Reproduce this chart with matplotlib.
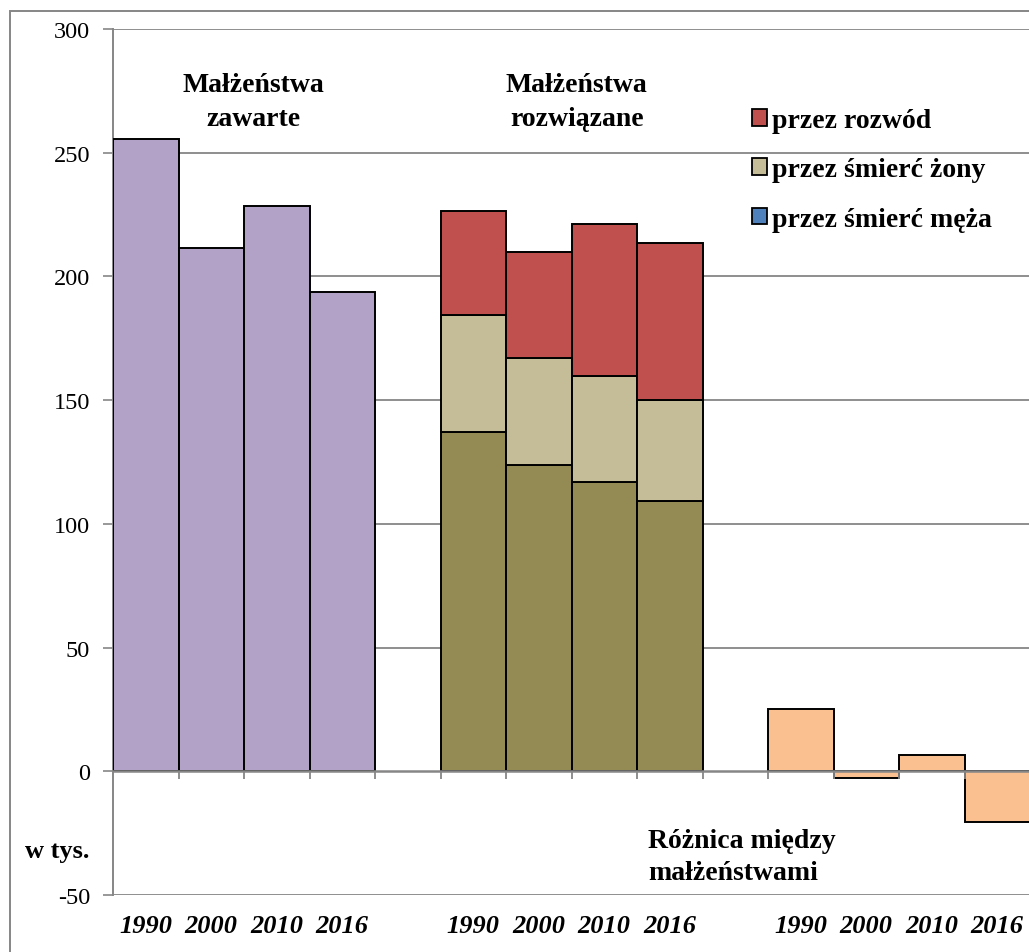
import matplotlib
matplotlib.use("Agg")
import matplotlib.pyplot as plt
from matplotlib.patches import Rectangle, Patch
from matplotlib import transforms

plt.rcParams['font.family'] = ['Liberation Serif', 'DejaVu Serif']
plt.rcParams['axes.unicode_minus'] = False

# Data (thousands)
years = ['1990', '2000', '2010', '2016']
zawarte = [255.4, 211.4, 228.4, 193.6]
przez_smierc_meza = [137.0, 123.7, 117.1, 109.1]
przez_smierc_zony = [47.5, 43.3, 42.6, 40.8]
przez_rozwod = [42.1, 42.9, 61.3, 63.5]
roznica = [25.3, -2.9, 6.5, -20.4]

group_titles = [['Małżeństwa', 'zawarte'],
                ['Małżeństwa', 'rozwiązane'],
                ['Różnica między', 'małżeństwami']]
legend_labels = ['przez rozwód', 'przez śmierć żony', 'przez śmierć męża']
yticks = [-50, 0, 50, 100, 150, 200, 250, 300]

C_PURPLE = '#B2A2C7'
C_OLIVE = '#948A54'
C_TAN = '#C4BD97'
C_RED = '#C0504D'
C_BLUE = '#4F81BD'
C_PEACH = '#FAC090'
C_GRID = '#868686'

W, H = 1029, 953
fig = plt.figure(figsize=(W / 100, H / 100), dpi=100)
ax = fig.add_axes([113 / W, (H - 896) / H, (1030 - 113) / W, (896 - 30) / H])

n = len(years)
x1 = list(range(0, n))
x2 = [i + n + 1 for i in range(n)]
x3 = [i + 2 * (n + 1) for i in range(n)]

edge = dict(edgecolor='black', linewidth=1.4, width=1.0, zorder=3)
ax.bar(x1, zawarte, color=C_PURPLE, **edge)
ax.bar(x2, przez_smierc_meza, color=C_OLIVE, **edge)
ax.bar(x2, przez_smierc_zony, bottom=przez_smierc_meza, color=C_TAN, **edge)
bottom3 = [a + b for a, b in zip(przez_smierc_meza, przez_smierc_zony)]
ax.bar(x2, przez_rozwod, bottom=bottom3, color=C_RED, **edge)
ax.bar(x3, roznica, color=C_PEACH, **edge)

ax.set_xlim(-0.5, 3 * n + 2 - 0.5)
ax.set_ylim(-50, 300)
ax.set_yticks(yticks)
ax.set_yticklabels([str(v) for v in yticks], fontsize=17.5)
ax.tick_params(axis='y', length=7, width=1.2, color=C_GRID, pad=9.5)
ax.set_xticks([])
for s in ['top', 'right', 'bottom']:
    ax.spines[s].set_visible(False)
ax.spines['left'].set_color(C_GRID)
ax.spines['left'].set_linewidth(1.4)
for v in yticks:
    if v != 0:
        ax.axhline(v, color=C_GRID, lw=1.3, zorder=1)
ax.axhline(0, color=C_GRID, lw=1.8, zorder=4)
# category boundary ticks on the zero line
for b in range(1, 3 * n + 2):
    ax.plot([b - 0.5, b - 0.5], [0, -3.2], color=C_GRID, lw=1.3, zorder=4,
            solid_capstyle='butt')

# year labels below the plot
blend = transforms.blended_transform_factory(ax.transData, fig.transFigure)
for xs in (x1, x2, x3):
    for xi, yr in zip(xs, years):
        ax.text(xi, 1 - 927 / H, yr, transform=blend, ha='center', va='center',
                fontsize=19, fontweight='bold', fontstyle='italic')

# group titles (one text per line, placed on baselines)
title_style = dict(fontsize=20, fontweight='bold', va='baseline')
for (l1, l2), xc in zip(group_titles[:2], [1.65, 6.58]):
    ax.text(xc, 275.0, l1, ha='center', **title_style)
    ax.text(xc, 261.4, l2, ha='center', **title_style)
x_r = (648 - 113) / 65.5 - 0.5
ax.text(x_r, -30.7, group_titles[2][0], ha='left', **title_style)
ax.text(x_r, -43.6, group_titles[2][1], ha='left', **title_style)

fig.text(57.5 / W, 1 - 858 / H, 'w tys.', ha='center', va='baseline', fontsize=19,
         fontweight='bold')

handles = [Patch(facecolor=C_RED, edgecolor='black', linewidth=1.3),
           Patch(facecolor=C_TAN, edgecolor='black', linewidth=1.3),
           Patch(facecolor=C_BLUE, edgecolor='black', linewidth=1.3)]
ax.legend(handles, legend_labels, loc='upper left',
          bbox_to_anchor=(752 / W, 1 - 109 / H), bbox_transform=fig.transFigure,
          frameon=False, prop={'size': 20, 'weight': 'bold'},
          handlelength=0.55, handleheight=0.55, handletextpad=0.18,
          labelspacing=0.88, borderpad=0, borderaxespad=0)

# outer chart frame
fig.add_artist(Rectangle((10 / W, -0.05), 1.1, 1.05 - 12 / H, transform=fig.transFigure,
                         fill=False, edgecolor=C_GRID, linewidth=1.4, clip_on=False))

fig.savefig('out.png', dpi=100)
